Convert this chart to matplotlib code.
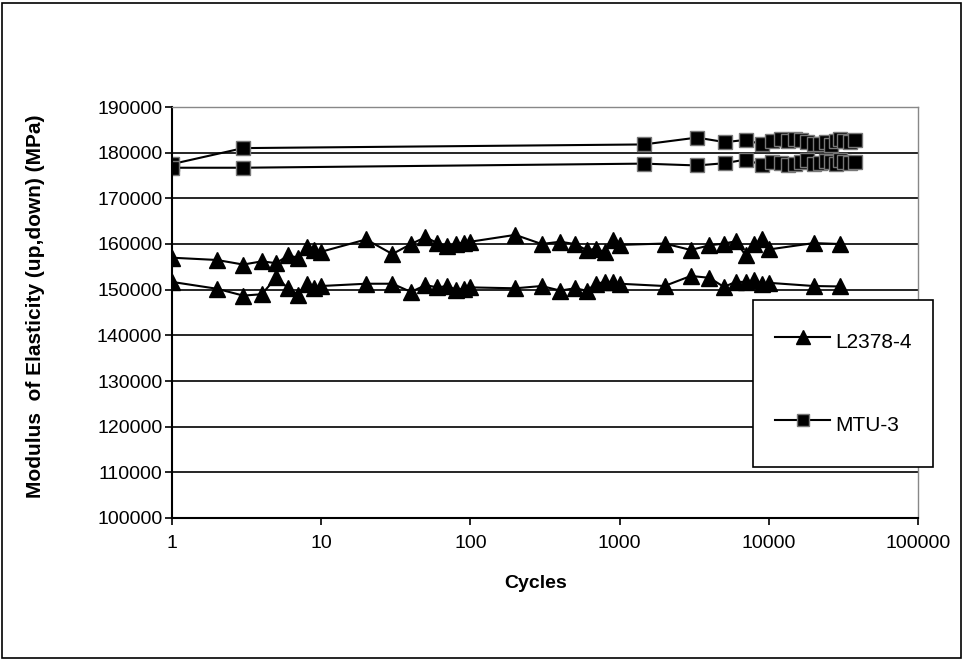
import matplotlib
matplotlib.use("Agg")
import matplotlib.pyplot as plt
from matplotlib.patches import Rectangle
from matplotlib.ticker import FixedLocator, FixedFormatter, NullLocator

plt.rcParams["font.family"] = ["Liberation Sans", "DejaVu Sans"]

# L2378-4 specimen: modulus on loading (up) and unloading (down)
l_cycles = [1, 2, 3, 4, 5, 6, 7, 8, 9, 10, 20, 30, 40, 50, 60, 70, 80, 90, 100,
            200, 300, 400, 500, 600, 700, 800, 900, 1000, 2000, 3000, 4000, 5000,
            6000, 7000, 8000, 9000, 10000, 20000, 30000]
l_up = [157000, 156500, 155500, 156200, 155800, 157500, 157000, 159300, 158700, 158300,
        161000, 157800, 160000, 161500, 160200, 159500, 160000, 160300, 160500,
        162000, 160000, 160500, 160000, 158700, 158900, 158200, 160800, 159800,
        160100, 158700, 159700, 160100, 160600, 157500, 160000, 161000, 158800,
        160200, 160000]
l_down = [151700, 150200, 148700, 149000, 152700, 150300, 148900, 151300, 150400, 150800,
          151300, 151300, 149500, 151000, 150500, 150800, 150000, 150200, 150500,
          150300, 150800, 149800, 150300, 149800, 151300, 151700, 151700, 151300,
          150800, 153000, 152600, 150600, 151700, 151700, 152100, 151300, 151500,
          150800, 150700]

# MTU-3 specimen
m_cycles = [1, 3, 1450, 3300, 5100, 7000, 9000, 10500, 12000, 13500, 15000, 16500,
            18000, 20000, 22000, 24000, 26000, 28000, 30000, 32000, 35000, 38000]
m_up = [177500, 181000, 181800, 183300, 182300, 182800, 181800, 182500, 182900, 182600,
        182900, 182700, 182300, 181800, 182000, 182300, 181700, 182500, 182900, 182600,
        182300, 182800]
m_down = [176700, 176700, 177600, 177200, 177700, 178500, 177300, 178000, 177800, 177300,
          177500, 178000, 178300, 177500, 177800, 178200, 178000, 177600, 178300, 178000,
          177800, 178000]

x_ticks = [1, 10, 100, 1000, 10000, 100000]
x_labels = ["1", "10", "100", "1000", "10000", "100000"]
y_ticks = list(range(100000, 190001, 10000))

fig = plt.figure(figsize=(9.65, 6.62), dpi=100)
fig.patches.append(Rectangle((2 / 965, 4 / 662), 959 / 965, 655 / 662,
                             transform=fig.transFigure, fill=False,
                             edgecolor="black", linewidth=1.2))

ax = fig.add_axes([172 / 965, 1 - 518 / 662, 746 / 965, 411 / 662])

tri = dict(color="black", linewidth=1.5, marker="^", markersize=12,
           markerfacecolor="black", markeredgecolor="black")
sq = dict(color="black", linewidth=1.5, marker="s", markersize=10,
          markerfacecolor="black", markeredgecolor="#777777", markeredgewidth=1)

ax.plot(l_cycles, l_up, label="L2378-4", **tri)
ax.plot(l_cycles, l_down, **tri)
ax.plot(m_cycles, m_up, label="MTU-3", **sq)
ax.plot(m_cycles, m_down, **sq)

ax.set_xscale("log")
ax.set_xlim(1, 100000)
ax.set_ylim(100000, 190000)
ax.xaxis.set_major_locator(FixedLocator(x_ticks))
ax.xaxis.set_major_formatter(FixedFormatter(x_labels))
ax.xaxis.set_minor_locator(NullLocator())
ax.set_yticks(y_ticks)
ax.set_yticklabels([str(v) for v in y_ticks])

ax.yaxis.grid(True, color="black", linewidth=1.2)
ax.set_axisbelow(True)
ax.tick_params(axis="both", direction="out", length=5, width=1.2,
               labelsize=14, colors="black")
ax.tick_params(axis="x", pad=7)
ax.tick_params(axis="y", pad=2)
for side in ["left", "bottom"]:
    ax.spines[side].set_color("black")
    ax.spines[side].set_linewidth(1.5)
for side in ["top", "right"]:
    ax.spines[side].set_color("#888888")
    ax.spines[side].set_linewidth(1.0)

ax.set_xlabel("Cycles", fontsize=14, fontweight="bold")
ax.xaxis.set_label_coords(0.488, -0.139)
ax.set_ylabel("Modulus  of Elasticity (up,down) (MPa)", fontsize=15,
              fontweight="bold")
ax.yaxis.set_label_coords(-0.170, 0.515)

# legend box drawn separately so the padding can be set freely
fig.patches.append(Rectangle((753 / 965, 1 - 467 / 662), 180 / 965, 167 / 662,
                             transform=fig.transFigure, facecolor="white",
                             edgecolor="black", linewidth=1.2, zorder=5))
leg = fig.legend(loc="center left", bbox_to_anchor=(775 / 965, 1 - 383 / 662),
                 fontsize=15, frameon=False, labelspacing=2.48, borderpad=0,
                 handleheight=1.92, handlelength=2.64, handletextpad=0.25,
                 borderaxespad=0, markerscale=0.8)
leg.set_zorder(6)

fig.savefig("out.png", dpi=100)
